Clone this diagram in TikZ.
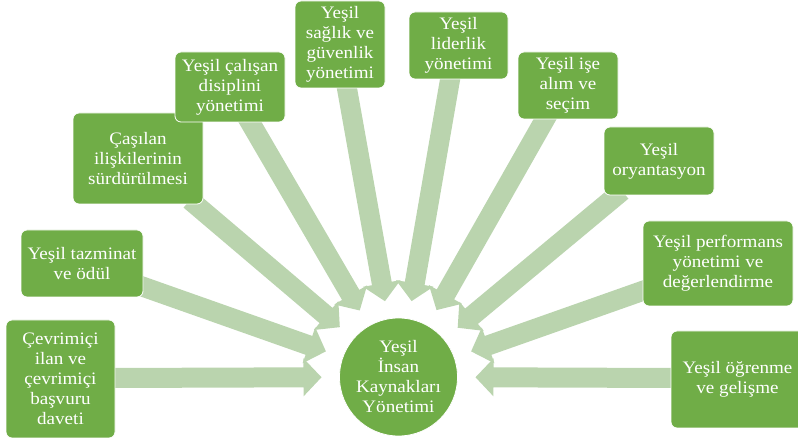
\documentclass[tikz,border=0pt]{standalone}
\usepackage{fontspec}
\setmainfont{Liberation Serif}
\newfontfamily\serifbox{Liberation Serif}[FakeStretch=1.09]
\usetikzlibrary{calc,backgrounds}
\definecolor{boxgreen}{RGB}{112,173,71}
\definecolor{arrowgreen}{RGB}{186,212,174}
\newcommand\fatarrow[2]{%
  \coordinate (tt) at ($(#2)!77pt!(#1)$);
  \coordinate (hb) at ($(tt)!18pt!(#1)$);
  \fill[bigarrow] ($(#1)!10pt!90:(tt)$) -- ($(hb)!10pt!90:(tt)$) -- ($(hb)!19pt!90:(tt)$) -- (tt)
    -- ($(hb)!19pt!-90:(tt)$) -- ($(hb)!10pt!-90:(tt)$) -- ($(#1)!10pt!-90:(tt)$) -- cycle;}
\begin{document}
\begin{tikzpicture}[x=1pt,y=-1pt,
  box/.style={draw=white, line width=0.8pt, fill=boxgreen, rounded corners=6pt, text=white,
    align=center, inner sep=2pt, font=\serifbox\fontsize{17.5pt}{20pt}\selectfont},
  hub/.style={circle, draw=white, line width=0.8pt, fill=boxgreen, text=white, align=center,
    minimum size=118pt, inner sep=0pt, font=\serifbox\fontsize{17.5pt}{20pt}\selectfont},
  bigarrow/.style={fill=arrowgreen}]
\useasboundingbox (0,0) rectangle (798,443);
\node[box, minimum width=109pt, minimum height=118pt] (b1) at (60.5,379) {Çevrimiçi\\ilan ve\\çevrimiçi\\başvuru\\daveti};
\node[box, minimum width=122pt, minimum height=67pt] (b2) at (82,263.5) {Yeşil tazminat\\ve ödül};
\node[box, minimum width=130pt, minimum height=91pt] (b3) at (138,158.5) {Çaşılan\\ilişkilerinin\\sürdürülmesi};
\node[box, minimum width=110pt, minimum height=70pt] (b4) at (230,87) {Yeşil çalışan\\disiplini\\yönetimi};
\node[box, minimum width=90pt, minimum height=87pt] (b5) at (340,44.5) {Yeşil\\sağlık ve\\güvenlik\\yönetimi};
\node[box, minimum width=99pt, minimum height=67pt] (b6) at (458.5,45.5) {Yeşil\\liderlik\\yönetimi};
\node[box, minimum width=100pt, minimum height=67pt] (b7) at (568,85.5) {Yeşil işe\\alım ve\\seçim};
\node[box, minimum width=110pt, minimum height=68pt] (b8) at (659,161) {Yeşil\\oryantasyon};
\node[box, minimum width=150pt, minimum height=85pt] (b9) at (718,263.5) {Yeşil performans\\yönetimi ve\\değerlendirme};
\node[box, minimum width=133pt, minimum height=97pt] (b10) at (737.5,379.5) {Yeşil öğrenme\\ve gelişme};
\node[hub] (hub) at (398.5,377) {Yeşil\\İnsan\\Kaynakları\\Yönetimi};
\coordinate (s1) at (110,378);
\coordinate (s2) at (138,285);
\coordinate (s3) at (190,200);
\coordinate (s4) at (247,117);
\coordinate (s5) at (346,83);
\coordinate (s6) at (451,74);
\coordinate (s7) at (548,114);
\coordinate (s8) at (622,191);
\coordinate (s9) at (648,289);
\coordinate (s10) at (676,378);
\begin{pgfonlayer}{background}
\foreach \s in {s1,s2,s3,s4,s5,s6,s7,s8,s9,s10} {\fatarrow{\s}{hub}}
\end{pgfonlayer}
\end{tikzpicture}
\end{document}
